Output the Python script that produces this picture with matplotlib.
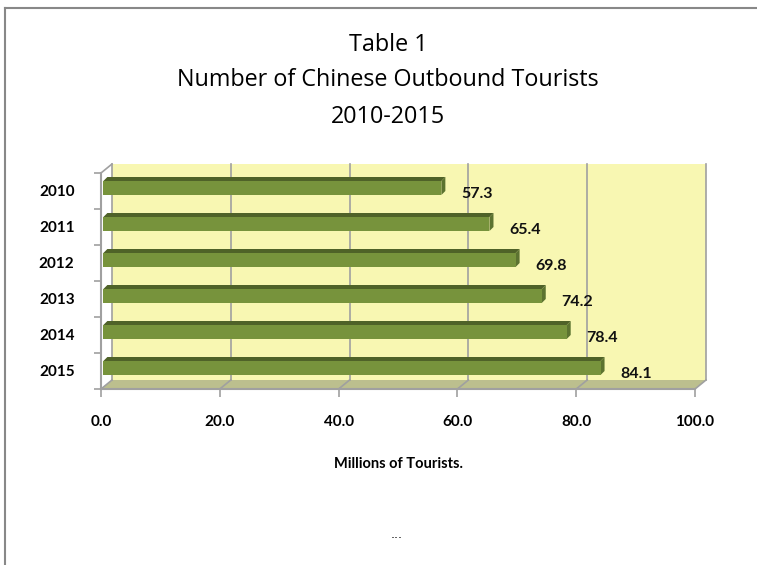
import numpy as np
import matplotlib
matplotlib.use("Agg")
import matplotlib.pyplot as plt
from matplotlib.patches import Polygon, Rectangle
from matplotlib.lines import Line2D

years = ["2010", "2011", "2012", "2013", "2014", "2015"]
tourists = [57.3, 65.4, 69.8, 74.2, 78.4, 84.1]
xticks = [0, 20, 40, 60, 80, 100]

wall_col = "#f8f7b2"
floor_col = "#bcbf8e"
front_col = "#77933c"
top_col = "#4f6228"
side_col = "#5c7330"
line_col = "#a0a0a0"

W, H = 757, 565
fig = plt.figure(figsize=(W / 100, H / 100), dpi=100)
fig.patch.set_facecolor("white")

# outer frame (only top and left edges show)
fig.add_artist(Line2D([5 / W, 1], [1 - 8 / H, 1 - 8 / H], color="#888888", lw=1.5))
fig.add_artist(Line2D([5 / W, 5 / W], [0, 1 - 8 / H], color="#888888", lw=1.5))

# front plane of the plot area
ax = fig.add_axes([101 / W, (H - 389) / H, 594 / W, 216 / H])
ax.set_xlim(0, 100)
ax.set_ylim(6, 0)
ax.patch.set_visible(False)

# depth offsets in data units (wall and bars)
ppx = 100 / 594.0
ppy = 1 / 36.0
wdx, wdy = 11 * ppx, -9 * ppy
bdx, bdy = 4 * ppx, -4 * ppy

# back wall and floor
ax.add_patch(Rectangle((wdx, wdy), 100, 6, facecolor=wall_col, edgecolor="none",
                       clip_on=False, zorder=0))
ax.add_patch(Polygon([(0, 6), (100, 6), (100 + wdx, 6 + wdy), (wdx, 6 + wdy)],
                     closed=True, facecolor=floor_col, edgecolor="none",
                     clip_on=False, zorder=0.5))

# gridlines on the wall, diagonals across the floor
for x in xticks:
    ax.plot([x + wdx, x + wdx], [wdy, 6 + wdy], color=line_col, lw=1.2, zorder=1,
            clip_on=False)
    ax.plot([x, x + wdx], [6, 6 + wdy], color=line_col, lw=1.2, zorder=1,
            clip_on=False)
ax.plot([0, wdx], [0, wdy], color=line_col, lw=1.2, zorder=1, clip_on=False)

# 3D bars
ypos = np.arange(len(years)) + 0.5
bh = 14 * ppy
for y, v in zip(ypos, tourists):
    y0 = y - 3 * ppy - bh / 2
    y1 = y0 + bh
    ax.add_patch(Polygon([(0.4, y0), (v, y0), (v + bdx, y0 + bdy), (0.4 + bdx, y0 + bdy)],
                         closed=True, facecolor=top_col, edgecolor="none",
                         clip_on=False, zorder=3))
    ax.add_patch(Polygon([(v, y0), (v + bdx, y0 + bdy), (v + bdx, y1 + bdy), (v, y1)],
                         closed=True, facecolor=side_col, edgecolor="none",
                         clip_on=False, zorder=3))
    ax.add_patch(Rectangle((0.4, y0), v - 0.4, bh, facecolor=front_col,
                           edgecolor="none", clip_on=False, zorder=4))
    ax.text(v + 6.0, y + 0.08, f"{v:.1f}", ha="center", va="center",
            fontsize=11.5, fontweight="bold", family="Lato", color="#111111",
            zorder=5)

# axes styling
for s in ["top", "right"]:
    ax.spines[s].set_visible(False)
for s in ["left", "bottom"]:
    ax.spines[s].set_color(line_col)
    ax.spines[s].set_linewidth(1.5)
ax.set_xticks(xticks)
ax.set_xticklabels([f"{x:.1f}" for x in xticks], fontsize=11, fontweight="bold",
                   family="Lato")
ax.tick_params(axis="x", length=6, width=1.2, color=line_col, pad=13)
ax.set_yticks(ypos)
ax.set_yticklabels(years, fontsize=11, fontweight="bold", family="Lato")
ax.set_yticks(np.arange(len(years) + 1), minor=True)
ax.tick_params(axis="y", which="major", length=0, pad=19)
ax.tick_params(axis="y", which="minor", length=5, width=1.2, color=line_col)
ax.set_xlabel("Millions of Tourists.", fontsize=10.5, fontweight="bold", family="Lato",
              labelpad=20)

# title
title_kw = dict(ha="center", va="center", fontsize=16.8, family="Open Sans")
fig.text(388 / W, 1 - 45 / H, "Table 1", **title_kw)
fig.text(388 / W, 1 - 80 / H, "Number of Chinese Outbound Tourists", **title_kw)
fig.text(388 / W, 1 - 117 / H, "2010-2015", **title_kw)
fig.text(397 / W, 1 - 535 / H, "...", ha="center", va="center", fontsize=9)

fig.savefig("out.png", dpi=100)
